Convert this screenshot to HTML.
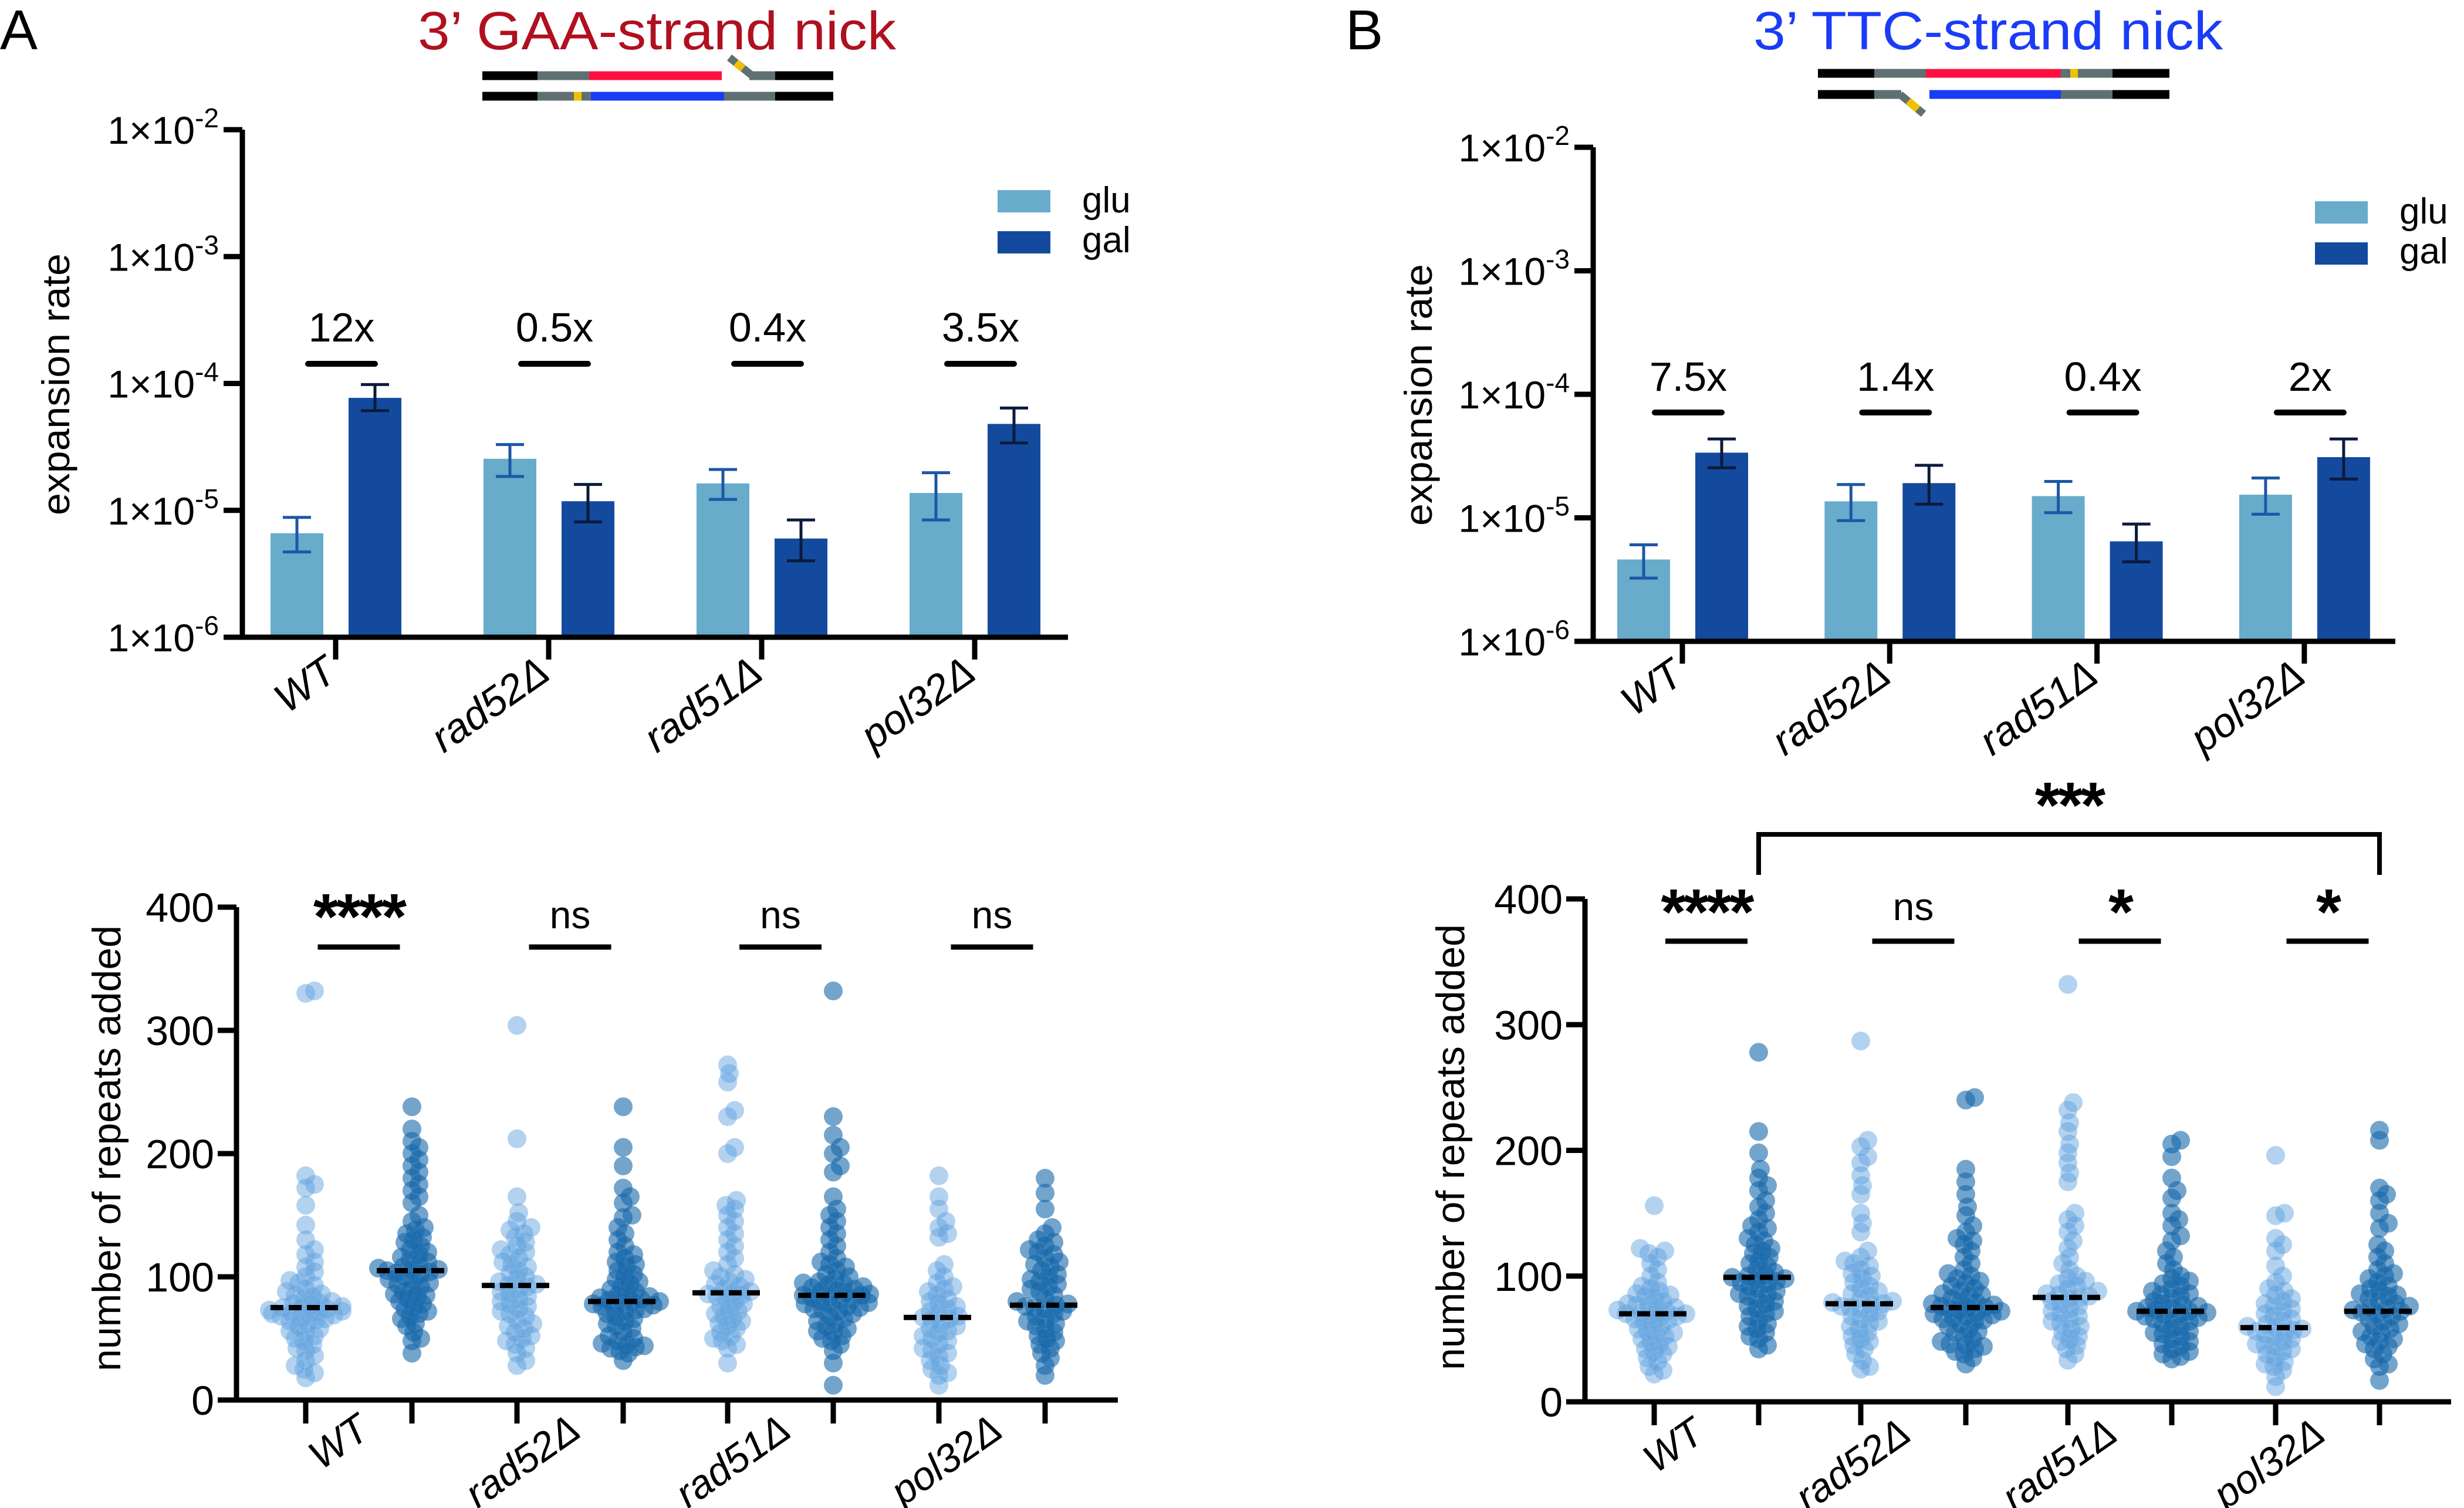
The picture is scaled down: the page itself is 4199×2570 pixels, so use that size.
<!DOCTYPE html>
<html><head><meta charset="utf-8"><style>
html,body{margin:0;padding:0;background:#fff;}
svg{display:block;font-family:"Liberation Sans",sans-serif;}
</style></head><body>
<svg id="fig" xmlns="http://www.w3.org/2000/svg" width="4199" height="2570" viewBox="0 0 4199 2570">
<rect width="4199" height="2570" fill="#fff"/>
<g id="root"></g>
</svg>
<script>
const strains = ["WT","rad52\u0394","rad51\u0394","pol32\u0394"];
const foldA = ["12x","0.5x","0.4x","3.5x"];
const foldB = ["7.5x","1.4x","0.4x","2x"];
const gluA = [6.6e-6,2.55e-5,1.63e-5,1.37e-5];
const gluAhi = [8.8e-6,3.3e-5,2.1e-5,1.98e-5];
const gluAlo = [4.7e-6,1.85e-5,1.22e-5,8.4e-6];
const galA = [7.7e-5,1.18e-5,6.0e-6,4.8e-5];
const galAhi = [9.8e-5,1.6e-5,8.4e-6,6.4e-5];
const galAlo = [6.1e-5,8.1e-6,4.0e-6,3.4e-5];
const gluB = [4.6e-6,1.36e-5,1.5e-5,1.54e-5];
const gluBhi = [6.05e-6,1.86e-5,1.97e-5,2.1e-5];
const gluBlo = [3.25e-6,9.5e-6,1.1e-5,1.07e-5];
const galB = [3.37e-5,1.91e-5,6.45e-6,3.1e-5];
const galBhi = [4.35e-5,2.66e-5,8.9e-6,4.35e-5];
const galBlo = [2.54e-5,1.29e-5,4.4e-6,2.06e-5];
const logTicks = [-6,-5,-4,-3,-2];
const linTicks = [0,100,200,300,400];
const sigA = ["****","ns","ns","ns"];
const sigB = ["****","ns","*","*"];
const medA = [75,105,93,80,87,85,67,77];
const medB = [70,99,78,75,83,72,59,72];
const A_WT_glu=[332,330,182,175,172,158,142,130,122,118,112,108,104,100,97,95,93,90,88,86,85,84,82,80,79,78,77,76,75,75,74,73,72,72,71,70,70,69,68,67,66,65,64,62,60,58,56,55,52,50,48,45,42,40,36,32,28,25,22,18];
const A_WT_gal=[238,220,210,205,200,195,190,185,180,175,170,165,160,150,145,140,138,135,132,130,128,125,122,120,118,116,114,112,110,108,107,106,105,105,104,103,102,100,98,97,95,94,92,90,88,86,85,84,82,80,78,76,74,72,70,68,66,62,60,55,50,48,38];
const A_52_glu=[304,212,165,152,145,140,138,135,132,128,125,122,120,118,115,112,110,108,105,103,100,98,96,94,93,92,90,88,86,84,82,80,78,76,74,72,70,68,65,62,60,58,55,52,50,48,45,42,38,32,28];
const A_52_gal=[238,205,190,172,165,160,150,148,140,135,130,125,120,118,115,112,110,108,105,102,100,98,96,94,92,90,88,86,85,84,83,82,81,80,80,79,78,77,76,75,74,73,72,70,68,66,64,62,60,58,55,52,50,48,46,45,44,43,42,40,38,32];
const A_51_glu=[272,265,258,235,230,205,200,162,158,155,150,145,140,135,130,125,120,115,110,105,102,100,98,96,94,92,90,88,87,86,85,84,82,80,78,76,74,72,70,68,66,64,62,60,58,55,52,50,48,45,42,30];
const A_51_gal=[332,230,215,205,200,190,185,165,155,150,145,140,135,130,125,120,115,112,110,108,105,102,100,98,96,95,94,93,92,91,90,89,88,87,86,85,85,84,83,82,81,80,79,78,77,76,75,74,73,72,70,68,66,64,62,60,58,56,55,52,50,48,45,40,30,12];
const A_32_glu=[182,165,155,145,140,135,132,110,105,100,95,92,90,88,85,82,80,78,76,74,72,70,68,67,66,65,62,60,58,56,55,52,50,48,45,42,40,38,35,32,28,25,22,20,12];
const A_32_gal=[180,168,155,140,135,130,128,125,122,120,118,115,112,110,108,105,102,100,98,96,94,92,90,88,85,82,80,78,77,76,75,74,72,70,68,66,64,62,60,58,55,52,50,48,45,42,38,34,28,20];
const B_WT_glu=[156,122,120,118,115,110,105,100,95,92,90,88,86,85,84,82,80,78,77,76,75,74,73,72,71,70,70,69,68,67,66,65,64,62,60,58,56,55,54,52,50,48,46,44,42,40,38,35,32,28,25,22];
const B_WT_gal=[278,215,198,185,178,172,168,160,155,150,145,140,138,135,130,128,125,122,120,118,115,112,110,108,105,103,101,100,99,98,97,96,95,94,92,90,88,86,85,84,82,80,78,76,74,72,70,68,65,62,60,58,55,52,50,45,42];
const B_52_glu=[287,208,203,195,190,180,172,165,150,142,135,120,115,112,110,108,105,102,100,98,95,92,90,88,86,84,82,80,79,78,77,76,75,74,72,70,68,66,64,62,60,58,55,52,50,48,45,42,38,33,28,26];
const B_52_gal=[242,240,185,175,165,155,148,140,135,130,128,125,120,115,110,105,102,100,98,96,94,92,90,88,86,85,84,82,80,79,78,77,76,75,75,74,73,72,71,70,69,68,67,66,65,64,62,60,58,56,55,52,50,48,46,45,44,42,40,38,35,30];
const B_51_glu=[332,238,232,222,215,205,198,190,182,175,150,145,140,135,128,122,115,110,105,100,98,96,94,92,90,88,86,85,84,83,82,80,78,76,74,72,70,68,66,64,62,60,58,55,52,50,48,45,42,38,33];
const B_51_gal=[208,205,195,178,168,162,150,145,140,132,128,120,115,110,105,100,98,96,94,92,90,88,86,85,84,82,80,78,77,76,75,74,73,72,72,71,70,69,68,67,66,65,64,62,60,58,56,55,54,52,50,48,46,44,42,40,38,36,34];
const B_32_glu=[196,150,148,130,125,120,108,100,95,90,88,85,82,80,78,76,74,72,70,68,66,64,62,60,59,58,57,56,55,54,52,50,48,46,45,44,42,40,38,35,32,30,28,25,20,12];
const B_32_gal=[216,208,170,165,160,150,142,138,125,120,115,110,105,102,100,98,95,92,90,88,86,85,84,82,80,78,76,75,74,73,72,71,70,68,66,64,62,60,58,56,55,52,50,48,46,44,42,38,34,30,28,17];

const NS="http://www.w3.org/2000/svg";
const root=document.getElementById('root');
function el(tag,attrs,parent,text){const e=document.createElementNS(NS,tag);for(const k in attrs)e.setAttribute(k,attrs[k]);if(text!==undefined)e.textContent=text;(parent||root).appendChild(e);return e;}
const GLU="#68abcb", GAL="#134a9e", GLUERR="#1d57a5", GALERR="#0b1b3c";

function header(letter,lx,title,tx,tw,color,dnaTop){
  const t=el('text',{x:lx,y:84,'font-size':96},root,letter);
  
  
  const h=el('text',{x:tx,y:84,'font-size':92,fill:color,textLength:tw,lengthAdjust:'spacingAndGlyphs'},root,title);
  
  
  const g=el('g',{});
  
  
  dnaTop(g);
}
function seg(g,x1,x2,y,c){el('line',{x1:x1,x2:x2,y1:y,y2:y,stroke:c,'stroke-width':15},g);}

header('A',0,"3\u2019 GAA-strand nick",712,815,"#b0101f",g=>{
  seg(g,822,916,129,'#000');seg(g,916,1004,129,'#5f7073');seg(g,1004,1230,129,'#ff1040');
  el('line',{x1:1243,y1:98,x2:1282,y2:129,stroke:'#5f7073','stroke-width':13},g);
  el('line',{x1:1254,y1:107,x2:1266,y2:117,stroke:'#f0c000','stroke-width':13},g);
  seg(g,1277,1321,129,'#5f7073');seg(g,1321,1420,129,'#000');
  seg(g,822,916,164,'#000');seg(g,916,1007,164,'#5f7073');seg(g,978,991,164,'#f0c000');
  seg(g,1007,1234,164,'#1b3cf5');seg(g,1234,1321,164,'#5f7073');seg(g,1321,1420,164,'#000');
});
header('B',2293,"3\u2019 TTC-strand nick",2988,800,"#1b3cf5",g=>{
  seg(g,3098,3194,125,'#000');seg(g,3194,3282,125,'#5f7073');seg(g,3282,3512,125,'#ff1040');
  seg(g,3512,3600,125,'#5f7073');seg(g,3528,3541,125,'#f0c000');seg(g,3600,3697,125,'#000');
  seg(g,3098,3194,161,'#000');seg(g,3194,3240,161,'#5f7073');
  el('line',{x1:3238,y1:161,x2:3278,y2:194,stroke:'#5f7073','stroke-width':13},g);
  el('line',{x1:3252,y1:172,x2:3268,y2:186,stroke:'#f0c000','stroke-width':13},g);
  seg(g,3288,3512,161,'#1b3cf5');seg(g,3512,3600,161,'#5f7073');seg(g,3600,3697,161,'#000');
});

function barPanel(p){
  const g=el('g',{});
  
  
  const y=v=>p.y0-(Math.log10(v)+6)*p.dec;
  for(let i=0;i<4;i++){
    const tx=p.x0+p.step*i;
    [[p.glu,p.gluHi,p.gluLo,-66,GLU,GLUERR,'glu'],[p.gal,p.galHi,p.galLo,67,GAL,GALERR,'gal']].forEach(s=>{
      const cx=tx+s[3],v=s[0][i];
      const r=el('rect',{x:cx-45,y:y(v),width:90,height:p.y0-y(v),fill:s[4]},g);
      
      
      const e=el('g',{stroke:s[5],'stroke-width':5},g);
      
      
      el('line',{x1:cx,x2:cx,y1:y(s[1][i]),y2:y(s[2][i])},e);
      el('line',{x1:cx-24,x2:cx+24,y1:y(s[1][i]),y2:y(s[1][i])},e);
      el('line',{x1:cx-24,x2:cx+24,y1:y(s[2][i]),y2:y(s[2][i])},e);
    });
    const fx=tx+10;
    const fl=el('text',{x:fx,y:p.foldY,'font-size':70,'text-anchor':'middle'},g,p.fold[i]);
    
    
    const ln=el('line',{x1:fx-57,x2:fx+57,y1:p.foldLineY,y2:p.foldLineY,stroke:'#000','stroke-width':10,'stroke-linecap':'round'},g);
    
    
    el('line',{x1:tx,x2:tx,y1:p.y0,y2:p.y0+38,stroke:'#000','stroke-width':9},g);
    const cl=el('text',{x:tx+6,y:p.catY,'font-size':70,'font-style':'italic','text-anchor':'end',transform:`rotate(-35 ${tx+6} ${p.catY})`},g,strains[i]);
    
    
  }
  const ax=el('path',{d:`M${p.ax} ${p.y0-4*p.dec} V${p.y0} H${p.xend}`,fill:'none',stroke:'#000','stroke-width':9},g);
  
  
  logTicks.forEach(e=>{
    const yy=p.y0-(e+6)*p.dec;
    el('line',{x1:p.ax-32,x2:p.ax,y1:yy,y2:yy,stroke:'#000','stroke-width':9},g);
    const t=el('text',{x:p.ax-40,y:yy+24,'font-size':66,'text-anchor':'end'},g);
    
    
    el('tspan',{},t,'1\u00d710');
    el('tspan',{dy:-28,'font-size':46},t,String(e));
  });
  const yl=el('text',{x:p.ylx,y:p.ylcy,'font-size':66,'text-anchor':'middle',transform:`rotate(-90 ${p.ylx} ${p.ylcy})`,textLength:446,lengthAdjust:'spacingAndGlyphs'},g,'expansion rate');
  
  
  const lg=el('g',{},g);
  
  
  el('rect',{x:p.lgx,y:p.lgy,width:90,height:38,fill:GLU},lg);
  el('rect',{x:p.lgx,y:p.lgy+70,width:90,height:38,fill:GAL},lg);
  const l1=el('text',{x:p.lgx+144,y:p.lgy+38,'font-size':62},lg,'glu');
  
  
  const l2=el('text',{x:p.lgx+144,y:p.lgy+106,'font-size':62},lg,'gal');
  
  
}
barPanel({id:'a',x0:572,step:363,y0:1086,dec:216.25,ax:413,xend:1820,glu:gluA,gluHi:gluAhi,gluLo:gluAlo,gal:galA,galHi:galAhi,galLo:galAlo,fold:foldA,foldY:582,foldLineY:620,catY:1155,ylx:118,ylcy:655,lgx:1700,lgy:324});
barPanel({id:'b',x0:2867,step:353.3,y0:1093,dec:210.5,ax:2715,xend:4082,glu:gluB,gluHi:gluBhi,gluLo:gluBlo,gal:galB,galHi:galBhi,galLo:galBlo,fold:foldB,foldY:666,foldLineY:703,catY:1160,ylx:2440,ylcy:673,lgx:3945,lgy:343});

function swarm(vals,cx,yf,color,g,name){
  const pts=[];const sorted=vals.slice().sort((a,b)=>a-b);const D=15;
  sorted.forEach(v=>{
    const yy=yf(v);let best=0;
    for(let k=0;k<60;k++){
      const off=(k%2?1:-1)*Math.ceil(k/2)*3;
      if(pts.every(p=>(p[0]-off)**2+(p[1]-yy)**2>=D*D)){best=off;break;}
    }
    best=Math.max(-62,Math.min(62,best));
    pts.push([best,yy]);
    const c=el('circle',{cx:cx+best,cy:yy,r:16,fill:color},g);
    
    
  });
}
function dotPanel(p){
  const g=el('g',{});
  
  
  const y=v=>p.y0-v*p.per;
  for(let j=0;j<8;j++){
    const cx=p.cols[j];
    swarm(p.groups[j],cx,y,j%2?'rgba(22,104,170,0.6)':'rgba(95,160,222,0.48)',g,(j%2?'point-gal':'point-glu'));
    const m=el('line',{x1:cx-60,x2:cx+60,y1:y(p.med[j]),y2:y(p.med[j]),stroke:'#000','stroke-width':9,'stroke-dasharray':'22 9'},g);
    
    
    el('line',{x1:cx,x2:cx,y1:p.y0,y2:p.y0+40,stroke:'#000','stroke-width':9},g);
  }
  for(let i=0;i<4;i++){
    const c=(p.cols[2*i]+p.cols[2*i+1])/2;
    const sl=el('line',{x1:c-70,x2:c+70,y1:p.sigLineY,y2:p.sigLineY,stroke:'#000','stroke-width':9},g);
    
    
    const s=p.sig[i];const star=s.indexOf('*')>=0;
    const st=el('text',{x:c,y:star?p.starY:p.nsY,'font-size':star?110:66,'font-weight':star?'bold':'normal','text-anchor':'middle','letter-spacing':star?-4:0},g,s);
    
    
    const cl=el('text',{x:c+p.catDx,y:p.catY,'font-size':68,'font-style':'italic','text-anchor':'end',transform:`rotate(-35 ${c+p.catDx} ${p.catY})`},g,strains[i]);
    
    
  }
  const ax=el('path',{d:`M${p.ax} ${y(400)} V${p.y0} H${p.xend}`,fill:'none',stroke:'#000','stroke-width':9},g);
  
  
  linTicks.forEach(v=>{
    el('line',{x1:p.ax-32,x2:p.ax,y1:y(v),y2:y(v),stroke:'#000','stroke-width':9},g);
    const t=el('text',{x:p.ax-38,y:y(v)+25,'font-size':70,'text-anchor':'end'},g,String(v));
    
    
  });
  const yl=el('text',{x:p.ylx,y:p.ylcy,'font-size':68,'text-anchor':'middle',transform:`rotate(-90 ${p.ylx} ${p.ylcy})`,textLength:760,lengthAdjust:'spacingAndGlyphs'},g,'number of repeats added');
  
  
  if(p.bracket){
    const b=el('path',{d:`M${p.cols[1]} 1491 V1422 H${p.cols[7]} V1491`,fill:'none',stroke:'#000','stroke-width':8},g);
    
    
    const bt=el('text',{x:(p.cols[1]+p.cols[7])/2,y:1410,'font-size':110,'font-weight':'bold','text-anchor':'middle','letter-spacing':-4},g,'***');
    
    
  }
}
dotPanel({id:'a',y0:2386,per:2.1,ax:403,xend:1905,cols:[521,702,881,1062,1240,1420,1600,1781],
  groups:[A_WT_glu,A_WT_gal,A_52_glu,A_52_gal,A_51_glu,A_51_gal,A_32_glu,A_32_gal],med:medA,sig:sigA,
  sigLineY:1614,starY:1600,nsY:1582,catDx:22,catY:2446,ylx:205,ylcy:1957});
dotPanel({id:'b',y0:2389,per:2.1425,ax:2701,xend:4177,cols:[2819,2997,3171,3350,3524,3701,3878,4055],
  groups:[B_WT_glu,B_WT_gal,B_52_glu,B_52_gal,B_51_glu,B_51_gal,B_32_glu,B_32_gal],med:medB,sig:sigB,
  sigLineY:1604,starY:1592,nsY:1568,catDx:0,catY:2452,ylx:2495,ylcy:1955,bracket:true});
</script>
</body></html>
